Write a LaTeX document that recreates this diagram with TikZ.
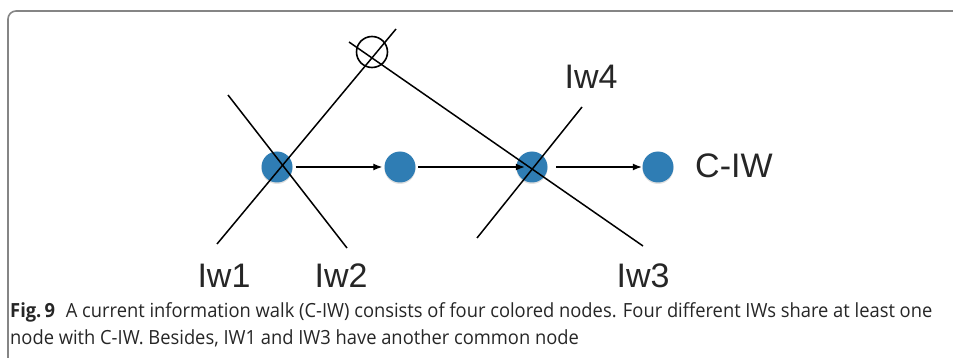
\documentclass[tikz,border=0pt]{standalone}
\usepackage{fontspec}
\setmainfont{Liberation Sans}
\newfontfamily\capfont[FakeStretch=0.94]{Open Sans}
\usetikzlibrary{arrows.meta}
\definecolor{nodeblue}{HTML}{2F7DB4}
\definecolor{framegray}{HTML}{858585}
\tikzset{
  x=1pt, y=-1pt,
  walk/.style={circle, fill=nodeblue, minimum size=31pt, inner sep=0pt,
    preaction={fill=black, opacity=0.12, transform canvas={yshift=-1.5pt}}},
  other/.style={circle, draw=black, line width=1.6pt, minimum size=31pt, inner sep=0pt},
  iwline/.style={line width=1.5pt, black},
  step arrow/.style={line width=1.3pt, -{Latex[length=9pt,width=7pt]}},
  lab/.style={font=\fontsize{34}{36}\selectfont, inner sep=0pt, text=black!85},
  captxt/.style={font=\capfont\fontsize{19.5}{22}\selectfont, inner sep=0pt, anchor=base west, text=black!85}
}
\begin{document}
\begin{tikzpicture}
\useasboundingbox (0,0) rectangle (953,358);
\clip (0,0) rectangle (953,358);
% caption frame
\draw[framegray, line width=1.6pt, rounded corners=8pt] (8,11) rectangle (990,400);

% nodes of the current walk
\node[walk] (n1) at (277,167) {};
\node[walk] (n2) at (400,167) {};
\node[walk] (n3) at (532,167) {};
\node[walk] (n4) at (658,167) {};
% node shared by IW1 and IW3
\node[other] (c) at (372,52) {};

% end points of the other walks
\coordinate (a1) at (217,244);
\coordinate (a2) at (396,29);
\coordinate (b1) at (228,95);
\coordinate (b2) at (347,248);
\coordinate (d1) at (349,42);
\coordinate (d2) at (643,246);
\coordinate (e1) at (477,238);
\coordinate (e2) at (582,107);

\draw[iwline] (a1) -- (a2);
\draw[iwline] (b1) -- (b2);
\draw[iwline] (d1) -- (d2);
\draw[iwline] (e1) -- (e2);

% steps of the current walk
\draw[step arrow, shorten <=3pt, shorten >=2pt] (n1) -- (n2);
\draw[step arrow, shorten <=2.5pt, shorten >=-8.5pt] (n2) -- (n3);
\draw[step arrow, shorten <=8.5pt, shorten >=0.5pt] (n3) -- (n4);

% labels
\node[lab] (l1) at (224,276) {Iw1};
\node[lab] (l2) at (341,276) {Iw2};
\node[lab] (l3) at (643,276) {Iw3};
\node[lab] (l4) at (591,77) {Iw4};
\node[lab, anchor=west] (cw) at (695,166) {C-IW};

% caption
\node[captxt] (cap1) at (10,317) {\textbf{Fig.\,9}\hspace{0.55em}A current information walk (C-IW) consists of four colored nodes. Four different IWs share at least one};
\node[captxt] (cap2) at (10,344) {node with C-IW. Besides, IW1 and IW3 have another common node};
\end{tikzpicture}
\end{document}
